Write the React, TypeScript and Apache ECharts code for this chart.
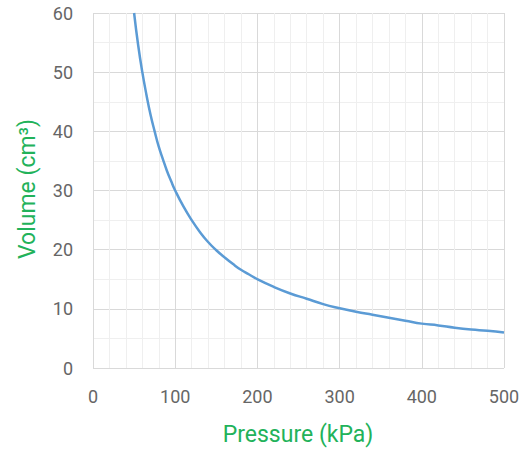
import React, { useEffect, useRef } from "react";
import * as echarts from "echarts";

const pressure = [50, 55, 60, 65, 70, 75, 80, 85, 90, 95, 100, 110, 120, 130, 140, 150, 160, 170, 180, 190, 200, 220, 240, 260, 280, 300, 320, 340, 360, 380, 400, 420, 440, 460, 480, 500];
const volume = [60, 54.5, 50, 46.2, 42.8, 40, 37.4, 35.3, 33.3, 31.6, 30, 27.3, 25, 23, 21.3, 19.9, 18.7, 17.6, 16.6, 15.8, 15, 13.7, 12.6, 11.7, 10.8, 10.1, 9.5, 9, 8.5, 8, 7.5, 7.2, 6.8, 6.5, 6.3, 6.0];

const xTitle = "Pressure (kPa)";
const yTitle = "Volume (cm³)";

export default function App() {
  const ref = useRef<HTMLDivElement>(null);
  useEffect(() => {
    document.body.style.margin = "0";
    const chart = echarts.init(ref.current!, null, { renderer: "svg" });
    const green = "#22b25a";
    chart.setOption({
      animation: false,
      grid: { left: 93, right: 25, top: 13, bottom: 83 },
      graphic: [
        {
          type: "text",
          x: 298,
          y: 434,
          style: { text: xTitle, fill: green, fontSize: 23, fontFamily: "Roboto", align: "center", verticalAlign: "middle" },
        },
        {
          type: "text",
          x: 27,
          y: 189,
          rotation: Math.PI / 2,
          style: { text: yTitle, fill: green, fontSize: 23, fontFamily: "Roboto", align: "center", verticalAlign: "middle" },
        },
      ],
      xAxis: {
        type: "value",
        min: 0,
        max: 500,
        interval: 100,
        axisLine: { show: false },
        axisTick: { show: false },
        axisLabel: { color: "#666666", fontSize: 18, fontFamily: "Roboto", margin: 19 },
        splitLine: { show: true, lineStyle: { color: "#d9d9d9", width: 1 } },
        minorTick: { show: false, splitNumber: 5 },
        minorSplitLine: { show: true, lineStyle: { color: "#efefef", width: 1 } },
      },
      yAxis: {
        type: "value",
        min: 0,
        max: 60,
        interval: 10,
        axisLine: { show: false },
        axisTick: { show: false },
        axisLabel: { color: "#666666", fontSize: 18, fontFamily: "Roboto", margin: 20 },
        splitLine: { show: true, lineStyle: { color: "#d9d9d9", width: 1 } },
        minorTick: { show: false, splitNumber: 2 },
        minorSplitLine: { show: true, lineStyle: { color: "#efefef", width: 1 } },
      },
      series: [
        {
          type: "line",
          data: pressure.map((p, i) => [p, volume[i]]),
          smooth: true,
          showSymbol: false,
          lineStyle: { color: "#5b9bd5", width: 2.5 },
        },
      ],
    });
    return () => chart.dispose();
  }, []);
  return <div ref={ref} style={{ width: 529, height: 451 }} />;
}
